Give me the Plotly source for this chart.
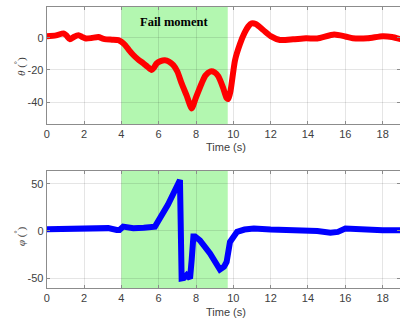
import plotly.graph_objects as go

# theta (top)
theta_t = [0, 0.5, 0.9, 1.05, 1.25, 1.45, 1.7, 1.9, 2.1, 2.4, 2.77, 3.0, 3.2, 3.5, 3.84, 4.0, 4.2, 4.4, 4.64, 4.9, 5.18, 5.4, 5.62, 5.75, 5.89, 6.1, 6.33, 6.55, 6.78, 7.0, 7.23, 7.5, 7.77, 8.0, 8.3, 8.5, 8.75, 9.0, 9.2, 9.45, 9.64, 9.73, 9.85, 10.09, 10.35, 10.6, 10.8, 10.98, 11.2, 11.6, 12.0, 12.5, 13.2, 13.9, 14.5, 15.4, 16.0, 16.4, 17.2, 18.0, 18.5, 19.0]
theta = [1, 1.5, 2.7, 1.5, -1, 0.5, 1.6, 0.5, -0.5, -0.2, 0.5, -0.5, -1, -1.2, -1.5, -2.5, -4.5, -7.5, -10.7, -13.5, -15.9, -18, -20, -18.5, -16, -14.5, -14, -14.8, -17, -21, -28.4, -36, -43.9, -37, -28.4, -23.5, -21, -21.5, -24, -31, -37.5, -38, -33, -14, -4, 3, 7, 8.9, 8.5, 4.8, 1, -1.4, -1, -0.3, -0.5, 2, 0.8, -0.3, -0.3, 1, 0.5, -1]

# phi (bottom)
phi_t = [0, 0.6, 1.25, 2.0, 2.86, 3.3, 3.75, 3.9, 4.1, 4.64, 5.2, 5.8, 6.5, 7.14, 7.23, 7.35, 7.5, 7.68, 7.77, 7.86, 7.95, 8.21, 8.75, 9.28, 9.5, 9.64, 9.82, 10.2, 10.6, 11.1, 12, 13.9, 14.5, 15.2, 15.6, 16.0, 17, 18, 19]
phi = [1.8, 2, 3.5, 3, 3.5, 3, 1, 1, 4.6, 2.8, 3.5, 4.6, 28, 54, -50.4, -50, -46.8, -50.4, -30, -6, -6, -10, -24, -41, -38, -33, -11.7, -1, 1.5, 2.5, 1.5, 0.7, 0, -2, -1, 2.5, 1, 0.7, 0.7]

fail_start, fail_end = 4.0, 9.7
top_ticks = [-40, -20, 0]
bot_ticks = [-50, 0, 50]
x_ticks = [0, 2, 4, 6, 8, 10, 12, 14, 16, 18]

W, H = 400, 321
fig = go.Figure()
fig.add_trace(go.Scatter(x=theta_t, y=theta, mode="lines", line=dict(color="#ff0000", width=6, shape="spline", smoothing=0.6), xaxis="x", yaxis="y"))
fig.add_trace(go.Scatter(x=phi_t, y=phi, mode="lines", line=dict(color="#0000ff", width=6), xaxis="x2", yaxis="y2"))

for xr, yr in [("x", "y"), ("x2", "y2")]:
    fig.add_shape(type="rect", xref=xr, yref=yr + " domain", x0=fail_start, x1=fail_end, y0=0, y1=1,
                  fillcolor="#b3f7b0", line=dict(width=0), layer="below")

tickfont = dict(family="Liberation Sans, Arial", size=11, color="#404040")
axcommon = dict(showline=True, linecolor="#8c8c8c", linewidth=1, mirror="ticks", ticks="inside", ticklen=3,
                tickcolor="#8c8c8c", gridcolor="rgba(0,0,0,0.10)", gridwidth=1, zeroline=False, tickfont=tickfont,
                automargin=False)
xl = 46.7 / W
fig.update_layout(
    width=W, height=H, margin=dict(l=0, r=0, t=0, b=0), showlegend=False,
    plot_bgcolor="white", paper_bgcolor="white",
    xaxis=dict(domain=[xl, 1], range=[0, 18.93], tickvals=x_ticks, anchor="y", **axcommon),
    yaxis=dict(domain=[1 - 124 / H, 1 - 6.7 / H], range=[-53.6, 19.3], tickvals=top_ticks,
               ticktext=[str(v) for v in top_ticks], anchor="x", **axcommon),
    xaxis2=dict(domain=[xl, 1], range=[0, 18.93], tickvals=x_ticks, anchor="y2", **axcommon),
    yaxis2=dict(domain=[1 - 288 / H, 1 - 170.7 / H], range=[-60.6, 64], tickvals=bot_ticks,
                ticktext=[str(v) for v in bot_ticks], anchor="x2", **axcommon),
)

labfont = dict(family="Liberation Sans, Arial", size=11, color="#404040")
anc = dict(xanchor="center", yanchor="middle", showarrow=False)
fig.add_annotation(text="Time (s)", xref="paper", yref="paper", x=226 / W, y=1 - 147 / H, font=labfont, **anc)
fig.add_annotation(text="Time (s)", xref="paper", yref="paper", x=226 / W, y=1 - 312 / H, font=labfont, **anc)
ylab = dict(family="Liberation Serif, Times New Roman", size=11, color="#404040")
fig.add_annotation(text="<i>θ</i> (<sup>°</sup>)", xref="paper", yref="paper", x=20 / W, y=1 - 67 / H, textangle=-90, font=ylab, **anc)
fig.add_annotation(text="<i>φ</i> (<sup>°</sup>)", xref="paper", yref="paper", x=20 / W, y=1 - 236 / H, textangle=-90, font=ylab, **anc)
fig.add_annotation(text="<b>Fail moment</b>", xref="x", yref="paper", x=(fail_start + fail_end) / 2, y=1 - 21.7 / H,
                   font=dict(family="Liberation Serif, Times New Roman", size=12.5, color="black"), **anc)

fig.write_html("out.html", config={"displayModeBar": False},
               post_script="document.body.style.margin='0px';")
